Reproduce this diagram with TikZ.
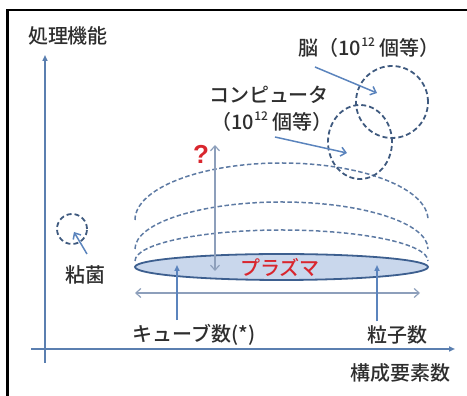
\documentclass[tikz,border=0pt]{standalone}
\usepackage{fontspec}
\newfontfamily\jp{Noto Sans CJK JP Medium}
\newfontfamily\qfont{Liberation Sans}
\usetikzlibrary{arrows.meta,shapes.geometric}
\definecolor{axisblue}{HTML}{5B7FB0}
\definecolor{arrblue}{HTML}{5B84BD}
\definecolor{circblue}{HTML}{3F5A7F}
\definecolor{arcblue}{HTML}{5D7AA3}
\definecolor{ellfill}{HTML}{C9D7EC}
\definecolor{ellline}{HTML}{3D5F8F}
\definecolor{grayblue}{HTML}{8D9FBB}
\definecolor{txt}{HTML}{2E2E2E}
\definecolor{redq}{HTML}{D9262E}
\tikzset{
  lbl/.style={font=\jp\fontsize{20}{24}\selectfont, text=txt, inner sep=0pt},
  axisline/.style={draw=axisblue, line width=1.5pt, -{Triangle[length=6pt,width=5pt]}},
  labelarrow/.style={draw=arrblue, line width=1.5pt, -{Straight Barb[length=5pt,width=9pt]}},
  uparrow/.style={draw=arrblue, line width=1.5pt, -{Triangle[length=6pt,width=5pt]}},
  dblarrow/.style={draw=grayblue, line width=1.2pt, {Straight Barb[length=5pt,width=9pt]}-{Straight Barb[length=5pt,width=9pt]}},
  dcirc/.style={draw=circblue, line width=1.8pt, dash pattern=on 5pt off 3pt, inner sep=0pt},
  darc/.style={draw=arcblue, line width=1.5pt, dash pattern=on 4.5pt off 2.5pt},
}
\newcommand{\supt}{\raisebox{0.45em}{\fontsize{12}{12}\selectfont 12}}
\begin{document}
\begin{tikzpicture}[x=1pt,y=1pt]
\useasboundingbox (0,0) rectangle (467,396);
% frame
\draw[line width=2.5pt, black] (7.5,0) -- (7.5,386) -- (467,386);
% axes
\coordinate (yb) at (45,33);
\coordinate (yt) at (45,341);
\coordinate (xl) at (31,47);
\coordinate (xr) at (455,47);
\draw[axisline] (yb) -- (yt);
\draw[axisline] (xl) -- (xr);
\node[lbl] (ytitle) at (68,360) {処理機能};
\node[lbl] (xtitle) at (400,23) {構成要素数};
% dashed arcs
\draw[darc] (135,176) arc[start angle=180, end angle=0, x radius=146.5pt, y radius=57pt];
\draw[darc] (135,147) arc[start angle=180, end angle=0, x radius=146.5pt, y radius=47pt];
\draw[darc] (135,135) arc[start angle=180, end angle=0, x radius=146.5pt, y radius=31pt];
% plasma ellipse
\node[ellipse, draw=ellline, fill=ellfill, line width=1.8pt, minimum width=293pt, minimum height=26pt, inner sep=0pt] (plasma) at (281.5,129) {};
\node[lbl, text=redq] (plasmatxt) at (280,129) {プラズマ};
% vertical double arrow with ?
\coordinate (vt) at (215,251);
\coordinate (vb) at (215,125);
\draw[dblarrow] (vb) -- (vt);
\node[inner sep=0pt, text=redq, font=\qfont\bfseries\fontsize{26}{28}\selectfont] (q) at (201,242) {?};
% horizontal double arrow
\coordinate (hl) at (135,103);
\coordinate (hr) at (420,103);
\draw[dblarrow] (hl) -- (hr);
% bottom labels
\node[lbl] (cube) at (194,61) {キューブ数(*)};
\node[lbl] (part) at (397,61) {粒子数};
\coordinate (cubeTip) at (177,131);
\coordinate (partTip) at (377,131);
\draw[uparrow] (cube.north -| cubeTip) ++(0,4) -- (cubeTip);
\draw[uparrow] (part.north -| partTip) ++(0,4) -- (partTip);
% circles
\node[dcirc, circle, minimum size=72pt] (brain) at (392,294) {};
\node[dcirc, ellipse, minimum width=64pt, minimum height=74pt] (comp) at (360,254) {};
\node[dcirc, circle, minimum size=30pt] (slime) at (72,167) {};
% labels
\node[lbl] (brainlbl) at (369,348) {脳（10\supt\ 個等）};
\node[lbl] (complbl) at (269,301) {コンピュータ};
\node[lbl] (complbl2) at (272,274) {（10\supt\ 個等）};
\node[lbl] (slimelbl) at (86,121) {粘菌};
% label arrows
\coordinate (bs) at (315,329);
\coordinate (be) at (377,303);
\coordinate (cs) at (275,259);
\coordinate (ce) at (347,243);
\coordinate (ss) at (87,142);
\coordinate (se) at (74,164);
\draw[labelarrow] (bs) -- (be);
\draw[labelarrow] (cs) -- (ce);
\draw[labelarrow] (ss) -- (se);
\end{tikzpicture}
\end{document}
